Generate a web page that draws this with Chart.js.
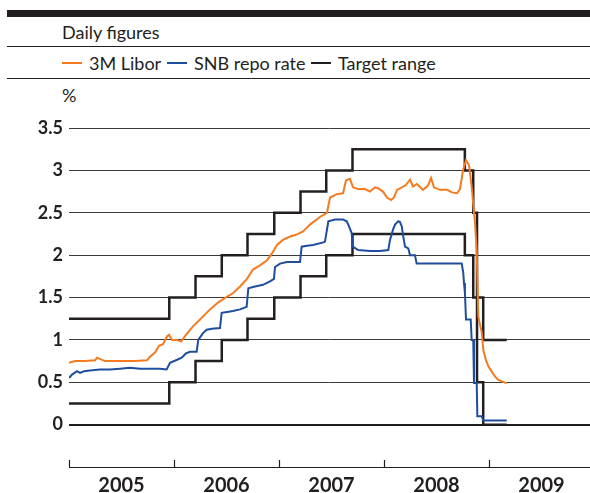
<!DOCTYPE html>
<html>
<head>
<meta charset="utf-8">
<script src="https://cdn.jsdelivr.net/npm/chart.js@4.4.1/dist/chart.umd.min.js"></script>
<style>
  html, body { margin: 0; padding: 0; background: #fff; }
  body { width: 590px; height: 493px; position: relative; overflow: hidden; font-family: Lato, "Open Sans", sans-serif; color: #231f20; }
  .bar { position: absolute; left: 7px; right: 0; top: 10px; height: 7px; background: #231f20; }
  .rule { position: absolute; left: 7px; right: 0; height: 1px; background: #231f20; }
  .txt { position: absolute; font-size: 18px; line-height: 20px; white-space: nowrap; }
  .sw { position: absolute; height: 2px; width: 20px; }
  #wrap { position: absolute; left: 0; top: 100px; width: 590px; height: 393px; }
</style>
</head>
<body>
<div class="bar"></div>
<div class="txt" style="left:62px; top:22px;">Daily figures</div>
<div class="rule" style="top:46px;"></div>
<div class="sw" style="left:62px; top:62px; background:#f47b20;"></div>
<div class="txt" style="left:89px; top:53px;">3M Libor</div>
<div class="sw" style="left:167px; top:62px; background:#1f4e9e;"></div>
<div class="txt" style="left:194px; top:53px;">SNB repo rate</div>
<div class="sw" style="left:311px; top:62px; background:#231f20;"></div>
<div class="txt" style="left:338px; top:53px;">Target range</div>
<div class="rule" style="top:78px;"></div>
<div class="txt" style="left:62px; top:85px;">%</div>
<div id="wrap"><canvas id="c" width="590" height="393"></canvas></div>
<script>
// Data (dates as decimal years)
const liborDates = [2005.000,2005.057,2005.152,2005.248,2005.267,2005.343,2005.486,2005.629,2005.743,2005.771,2005.819,2005.857,2005.895,2005.933,2005.952,2005.981,2006.029,2006.067,2006.114,2006.181,2006.248,2006.343,2006.419,2006.505,2006.562,2006.629,2006.695,2006.752,2006.819,2006.886,2006.933,2006.981,2007.038,2007.105,2007.162,2007.229,2007.295,2007.390,2007.457,2007.486,2007.552,2007.610,2007.638,2007.676,2007.705,2007.752,2007.819,2007.867,2007.914,2007.943,2007.990,2008.029,2008.067,2008.095,2008.124,2008.171,2008.210,2008.248,2008.276,2008.314,2008.371,2008.419,2008.448,2008.476,2008.533,2008.600,2008.648,2008.695,2008.724,2008.752,2008.781,2008.810,2008.835,2008.857,2008.867,2008.883,2008.890,2008.898,2008.914,2008.930,2008.946,2008.971,2008.993,2009.029,2009.057,2009.086,2009.121,2009.143,2009.169];
const liborValues = [0.73,0.75,0.75,0.76,0.79,0.75,0.75,0.75,0.76,0.80,0.85,0.93,0.95,1.04,1.06,1.00,1.00,0.98,1.06,1.16,1.24,1.36,1.44,1.51,1.55,1.63,1.72,1.83,1.88,1.94,2.02,2.12,2.18,2.22,2.24,2.28,2.36,2.45,2.50,2.68,2.72,2.73,2.88,2.90,2.80,2.78,2.78,2.75,2.80,2.79,2.75,2.68,2.65,2.68,2.77,2.80,2.83,2.89,2.81,2.84,2.77,2.82,2.91,2.80,2.77,2.77,2.74,2.73,2.78,3.00,3.12,3.06,2.81,2.50,2.38,2.06,1.70,1.28,1.18,1.10,0.88,0.76,0.69,0.62,0.57,0.53,0.51,0.50,0.49];

const repoDates = [2005.000,2005.029,2005.076,2005.105,2005.143,2005.200,2005.295,2005.390,2005.486,2005.581,2005.676,2005.771,2005.867,2005.930,2005.962,2006.019,2006.073,2006.114,2006.152,2006.216,2006.231,2006.276,2006.311,2006.362,2006.438,2006.454,2006.505,2006.562,2006.629,2006.692,2006.708,2006.771,2006.848,2006.914,2006.952,2006.962,2007.010,2007.076,2007.200,2007.216,2007.267,2007.324,2007.422,2007.438,2007.470,2007.533,2007.610,2007.645,2007.667,2007.692,2007.702,2007.755,2007.867,2007.962,2008.041,2008.057,2008.086,2008.105,2008.136,2008.152,2008.169,2008.181,2008.200,2008.231,2008.248,2008.295,2008.311,2008.438,2008.581,2008.740,2008.755,2008.762,2008.771,2008.781,2008.826,2008.835,2008.850,2008.857,2008.883,2008.889,2008.930,2008.946,2009.169];
const repoValues = [0.55,0.59,0.63,0.61,0.63,0.64,0.65,0.65,0.66,0.67,0.66,0.66,0.66,0.65,0.73,0.76,0.79,0.84,0.86,0.86,1.00,1.08,1.12,1.13,1.14,1.32,1.33,1.34,1.36,1.39,1.61,1.63,1.65,1.69,1.72,1.86,1.90,1.92,1.92,2.10,2.11,2.12,2.15,2.16,2.40,2.42,2.42,2.40,2.34,2.26,2.10,2.06,2.05,2.05,2.06,2.18,2.30,2.36,2.40,2.39,2.34,2.24,2.10,2.08,2.00,2.00,1.90,1.90,1.90,1.90,1.79,1.67,1.55,1.24,1.24,1.00,1.00,0.49,0.49,0.10,0.10,0.05,0.05];

const targetDates = [2005.000,2005.955,2006.205,2006.455,2006.700,2006.955,2007.205,2007.450,2007.700,2008.770,2008.850,2008.886,2008.945,2009.169];
const targetUpper = [1.25,1.50,1.75,2.00,2.25,2.50,2.75,3.00,3.25,3.00,2.50,1.50,1.00,1.00];
const targetLower = [0.25,0.50,0.75,1.00,1.25,1.50,1.75,2.00,2.25,2.00,1.50,0.50,0.00,0.00];

const yearLabels = [2005, 2006, 2007, 2008, 2009];
const yTicks = [0, 0.5, 1, 1.5, 2, 2.5, 3, 3.5];

const pts = (xs, ys) => xs.map((x, i) => ({ x: x, y: ys[i] }));

const INK = '#231f20';

const yearTickPlugin = {
  id: 'yearTicks',
  afterDraw(chart) {
    const xs = chart.scales.x, ctx = chart.ctx, b = chart.chartArea.bottom;
    ctx.save();
    ctx.strokeStyle = INK;
    ctx.lineWidth = 1.2;
    yearLabels.forEach(yr => {
      const px = Math.round(xs.getPixelForValue(yr)) + 0.5;
      ctx.beginPath();
      ctx.moveTo(px, b);
      ctx.lineTo(px, b - 7);
      ctx.stroke();
    });
    ctx.restore();
  }
};

new Chart(document.getElementById('c'), {
  type: 'line',
  data: {
    datasets: [
      { label: '3M Libor', data: pts(liborDates, liborValues), borderColor: '#f47b20', borderWidth: 2, pointRadius: 0, tension: 0, order: 1 },
      { label: 'SNB repo rate', data: pts(repoDates, repoValues), borderColor: '#1f4e9e', borderWidth: 2, pointRadius: 0, tension: 0, order: 2 },
      { label: 'Target range', data: pts(targetDates, targetUpper), borderColor: INK, borderWidth: 2.5, pointRadius: 0, stepped: true, order: 3 },
      { label: 'Target range lower', data: pts(targetDates, targetLower), borderColor: INK, borderWidth: 2.5, pointRadius: 0, stepped: true, order: 3 }
    ]
  },
  options: {
    responsive: false,
    animation: false,
    events: [],
    layout: { padding: { top: 28, right: 0, left: 0, bottom: 0 } },
    plugins: { legend: { display: false }, tooltip: { enabled: false } },
    scales: {
      x: {
        type: 'linear',
        min: 2005,
        max: 2009.962,
        afterFit: s => { s.height = 26; },
        afterBuildTicks: s => { s.ticks = yearLabels.map(y => ({ value: y + 0.5 })); },
        grid: { display: false, drawTicks: false },
        border: { display: true, color: INK, width: 1 },
        ticks: {
          autoSkip: false, maxRotation: 0, padding: 7,
          color: INK,
          font: { family: 'Lato', weight: 'bold', size: 20 },
          callback: v => String(Math.floor(v))
        }
      },
      y: {
        min: -0.5,
        max: 3.5,
        afterFit: s => { s.width = 69; },
        afterBuildTicks: s => { s.ticks = [-0.5].concat(yTicks).map(v => ({ value: v })); },
        border: { display: false },
        grid: {
          drawTicks: false,
          color: c => c.tick.value === -0.5 ? 'rgba(0,0,0,0)' : (c.tick.value === 0 ? INK : '#3a3a3a'),
          lineWidth: c => c.tick.value === 0 ? 2 : 1
        },
        ticks: {
          padding: 6,
          color: INK,
          font: { family: 'Lato', weight: 'bold', size: 18 },
          callback: v => v === -0.5 ? '' : String(v)
        }
      }
    }
  },
  plugins: [yearTickPlugin]
});
</script>
</body>
</html>
